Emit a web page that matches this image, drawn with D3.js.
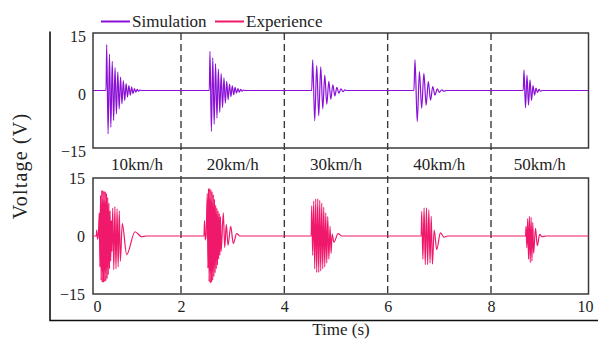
<!DOCTYPE html>
<html>
<head>
<meta charset="utf-8">
<script src="https://cdn.jsdelivr.net/npm/d3@7"></script>
<style>
  body { margin: 0; background: #fff; }
  svg text { font-family: "Liberation Serif", "Times New Roman", serif; fill: #222; }
</style>
</head>
<body>
<svg id="chart" width="608" height="341" font-family="Liberation Serif"></svg>
<script>
// tick labels / categories
const xTicks = [0, 2, 4, 6, 8, 10]
const yTicks = [-15, 0, 15]
const speeds = ["10km/h", "20km/h", "30km/h", "40km/h", "50km/h"]
const seriesNames = ["Simulation", "Experience"]

// simulation: burst start (s), spacing between extrema (s), extrema values (V)
const simStart = [0.231, 2.561, 4.549, 6.529, 8.702]
const simStep = [0.033, 0.027, 0.039, 0.043, 0.032]
const simPeaks = [
  [12, -11.3, 9.5, -9.6, 7.6, -7.8, 6, -6.1, 4.8, -4.8, 3.5, -3.5, 2.6, -2.6, 1.8, -1.7, 1.3, -1.2, 0.9, -0.8, 0.5, -0.4, 0.3, -0.2, 0.1, 0],
  [10.2, -10.7, 8.5, -8.8, 7, -7.2, 5.6, -5.7, 4.4, -4.4, 3.3, -3.3, 2.4, -2.4, 1.7, -1.6, 1.2, -1.1, 0.8, -0.7, 0.5, -0.4, 0.3, -0.2, 0.1, 0],
  [8.0, -7.9, 6.5, -6.6, 6.2, -4.8, 4.0, -3.6, 2.4, -2.3, 1.5, -1.4, 0.8, -0.7, 0.4, -0.3, 0.15, 0],
  [8.0, -8.1, 4.9, -4.6, 4.5, -3.8, 2.3, -2.5, 1.0, -1.2, 0.4, -0.5, 0.2, -0.2, 0],
  [5.3, -4.5, 4.0, -3.8, 2.8, -2.6, 1.3, -1.2, 0.6, -0.5, 0.3, -0.2, 0]
]

// experience: dense lobes [start, step, extrema] and ring-down points [time, value]
const expLobes = [
  [[-0.007, 0.019, [1.5, -0.8, 0]],
   [0.055, 0.0143, [6, -8, 10.5, -11.5, 11.8, -12, 11.8, -12, 11.6, -11.8, 11.5, -11.6, 11, -11, 10, -10, 8.5, -8.5, 6.5, -6.5, 4, -4]],
   [0.374, 0.026, [7.2, -8.7, 7.6, -8.5, 7, -8, 6.5, -6.5]]],
  [[2.455, 0.015, [4, -1, 0]],
   [2.509, 0.0116, [11, -8.3, 12.3, -11.8, 12.3, -12.2, 12, -12, 11.5, -11.5, 10.7, -10.5, 9.5, -9.5, 8, -8.5, 7.2, -7.5, 6.5, -6, 5.8, -5, 5, -4]]],
  [[4.530, 0.0194, [7.8, -5, 9, -8.5, 9.6, -9.4, 9.6, -9.4, 9.2, -9, 8.5, -8.5, 7.5, -8, 6, -7, 5]]],
  [[6.659, 0.023, [6.4, -6, 7.3, -7.4, 7.3, -7.4, 6.8, -7, 5.1, -7.3]]],
  [[8.745, 0.018, [2.5, -3, 4.5, -6, 5.1, -6.9, 4.8, -6.5, 3.5, -4.5]]]
]
const expTails = [
  [[0.602, 3.2], [0.707, -4.8], [0.905, 1.1], [1.064, -0.2], [1.167, 0]],
  [[2.819, 6], [2.846, -3], [2.877, 3], [2.910, -2.4], [2.962, 2.5], [3.012, -1.9], [3.078, 0.6], [3.142, 0]],
  [[4.862, -6], [4.885, 2.5], [4.905, -4.5], [4.925, 0.5], [4.960, -1.6], [5.040, 0.6], [5.116, 0]],
  [[6.900, 1.5], [6.950, -3.5], [7.020, 0.8], [7.090, -0.3], [7.160, 0]],
  [[8.947, 2], [8.985, -2.5], [9.036, 0.4], [9.085, -0.2], [9.170, 0]]
]

const simColor = "#8a10d6"
const expColor = "#f0186a"
const frameColor = "#3a3a3a"
const serif = "Liberation Serif"

const svg = d3.select("#chart")

// layout
const left = 93, right = 588.5
const topPanel = { y0: 33, y1: 148 }
const botPanel = { y0: 178, y1: 294 }

// tick labels in the figure are not evenly spaced, so use a polylinear scale
const x = d3.scaleLinear().domain([0, 2, 8, 10]).range([97, 181, 491, 585])
const tMin = x.invert(left), tMax = x.invert(right)
const yTop = d3.scaleLinear().domain([-15, 15]).range([topPanel.y1, topPanel.y0])
const yBot = d3.scaleLinear().domain([-15, 15]).range([botPanel.y1, botPanel.y0])

function simPoints() {
  const pts = [[tMin, 0]]
  simStart.forEach((t0, i) => {
    pts.push([t0 - simStep[i] * 0.5, 0])
    simPeaks[i].forEach((v, k) => pts.push([t0 + k * simStep[i], v]))
  })
  pts.push([tMax, 0])
  return pts
}

function expPoints() {
  const pts = [[tMin, 0]]
  expLobes.forEach((lobes, i) => {
    pts.push([lobes[0][0] - 0.01, 0])
    lobes.forEach(([t0, dt, vals]) => vals.forEach((v, k) => pts.push([t0 + k * dt, v])))
    expTails[i].forEach(p => pts.push(p))
  })
  pts.push([tMax, 0])
  return pts
}

// outer L frame
svg.append("path")
  .attr("d", `M50,31.5V320.5H598`)
  .attr("fill", "none").attr("stroke", "#111").attr("stroke-width", 1.6)

// panel frames
;[topPanel, botPanel].forEach(p => {
  svg.append("rect")
    .attr("x", left).attr("y", p.y0)
    .attr("width", right - left).attr("height", p.y1 - p.y0)
    .attr("fill", "none").attr("stroke", frameColor).attr("stroke-width", 1.5)
})

// dashed separators
svg.append("g").selectAll("line")
  .data(xTicks.slice(1, -1))
  .join("line")
    .attr("x1", d => x(d)).attr("x2", d => x(d))
    .attr("y1", topPanel.y0).attr("y2", botPanel.y1)
    .attr("stroke", frameColor).attr("stroke-width", 1.4)
    .attr("stroke-dasharray", "7,4")

// speed labels between panels
const bounds = [left, ...xTicks.slice(1, -1).map(x), right]
svg.append("g").selectAll("text")
  .data(speeds)
  .join("text")
    .attr("x", (d, i) => (bounds[i] + bounds[i + 1]) / 2)
    .attr("y", 170)
    .attr("text-anchor", "middle")
    .attr("font-family", serif)
    .attr("font-size", 17)
    .text(d => d)

// signals
const line = (y) => d3.line().x(d => x(d[0])).y(d => y(d[1])).curve(d3.curveMonotoneX)
svg.append("path").datum(simPoints())
  .attr("d", line(yTop))
  .attr("fill", "none").attr("stroke", simColor).attr("stroke-width", 1.2)
svg.append("path").datum(expPoints())
  .attr("d", line(yBot))
  .attr("fill", "none").attr("stroke", expColor).attr("stroke-width", 1.2)

// axes (labels only)
const yAxTop = svg.append("g").attr("transform", `translate(${left},0)`)
  .call(d3.axisLeft(yTop).tickValues(yTicks).tickSize(0).tickPadding(7))
yAxTop.selectAll("text").attr("dy", "0.55em")
const yAxBot = svg.append("g").attr("transform", `translate(${left},0)`)
  .call(d3.axisLeft(yBot).tickValues(yTicks).tickSize(0).tickPadding(8))
const xAx = svg.append("g").attr("transform", `translate(0,${botPanel.y1})`)
  .call(d3.axisBottom(x).tickValues(xTicks).tickSize(0).tickPadding(7).tickFormat(d3.format("d")))
;[yAxTop, yAxBot, xAx].forEach(g => {
  g.attr("font-family", serif)
  g.select(".domain").remove()
  g.selectAll("text").attr("font-size", 16).attr("font-family", serif).attr("fill", "#222")
})

// axis titles
svg.append("text")
  .attr("transform", "translate(27,166) rotate(-90)")
  .attr("text-anchor", "middle").attr("font-size", 20).attr("font-family", serif)
  .attr("letter-spacing", 1.2)
  .text("Voltage (V)")
svg.append("text")
  .attr("x", 341).attr("y", 335)
  .attr("text-anchor", "middle").attr("font-size", 17).attr("font-family", serif)
  .text("Time (s)")

// legend
const legend = svg.append("g")
const legX = [101, 215]
seriesNames.forEach((name, i) => {
  const g = legend.append("g").attr("transform", `translate(${legX[i]},21.5)`)
  g.append("line").attr("x1", 0).attr("x2", 29)
    .attr("stroke", i === 0 ? simColor : expColor).attr("stroke-width", 2)
  g.append("text").attr("x", 31).attr("y", 5.5)
    .attr("font-size", 17).attr("font-family", serif).text(name)
})
</script>
</body>
</html>
